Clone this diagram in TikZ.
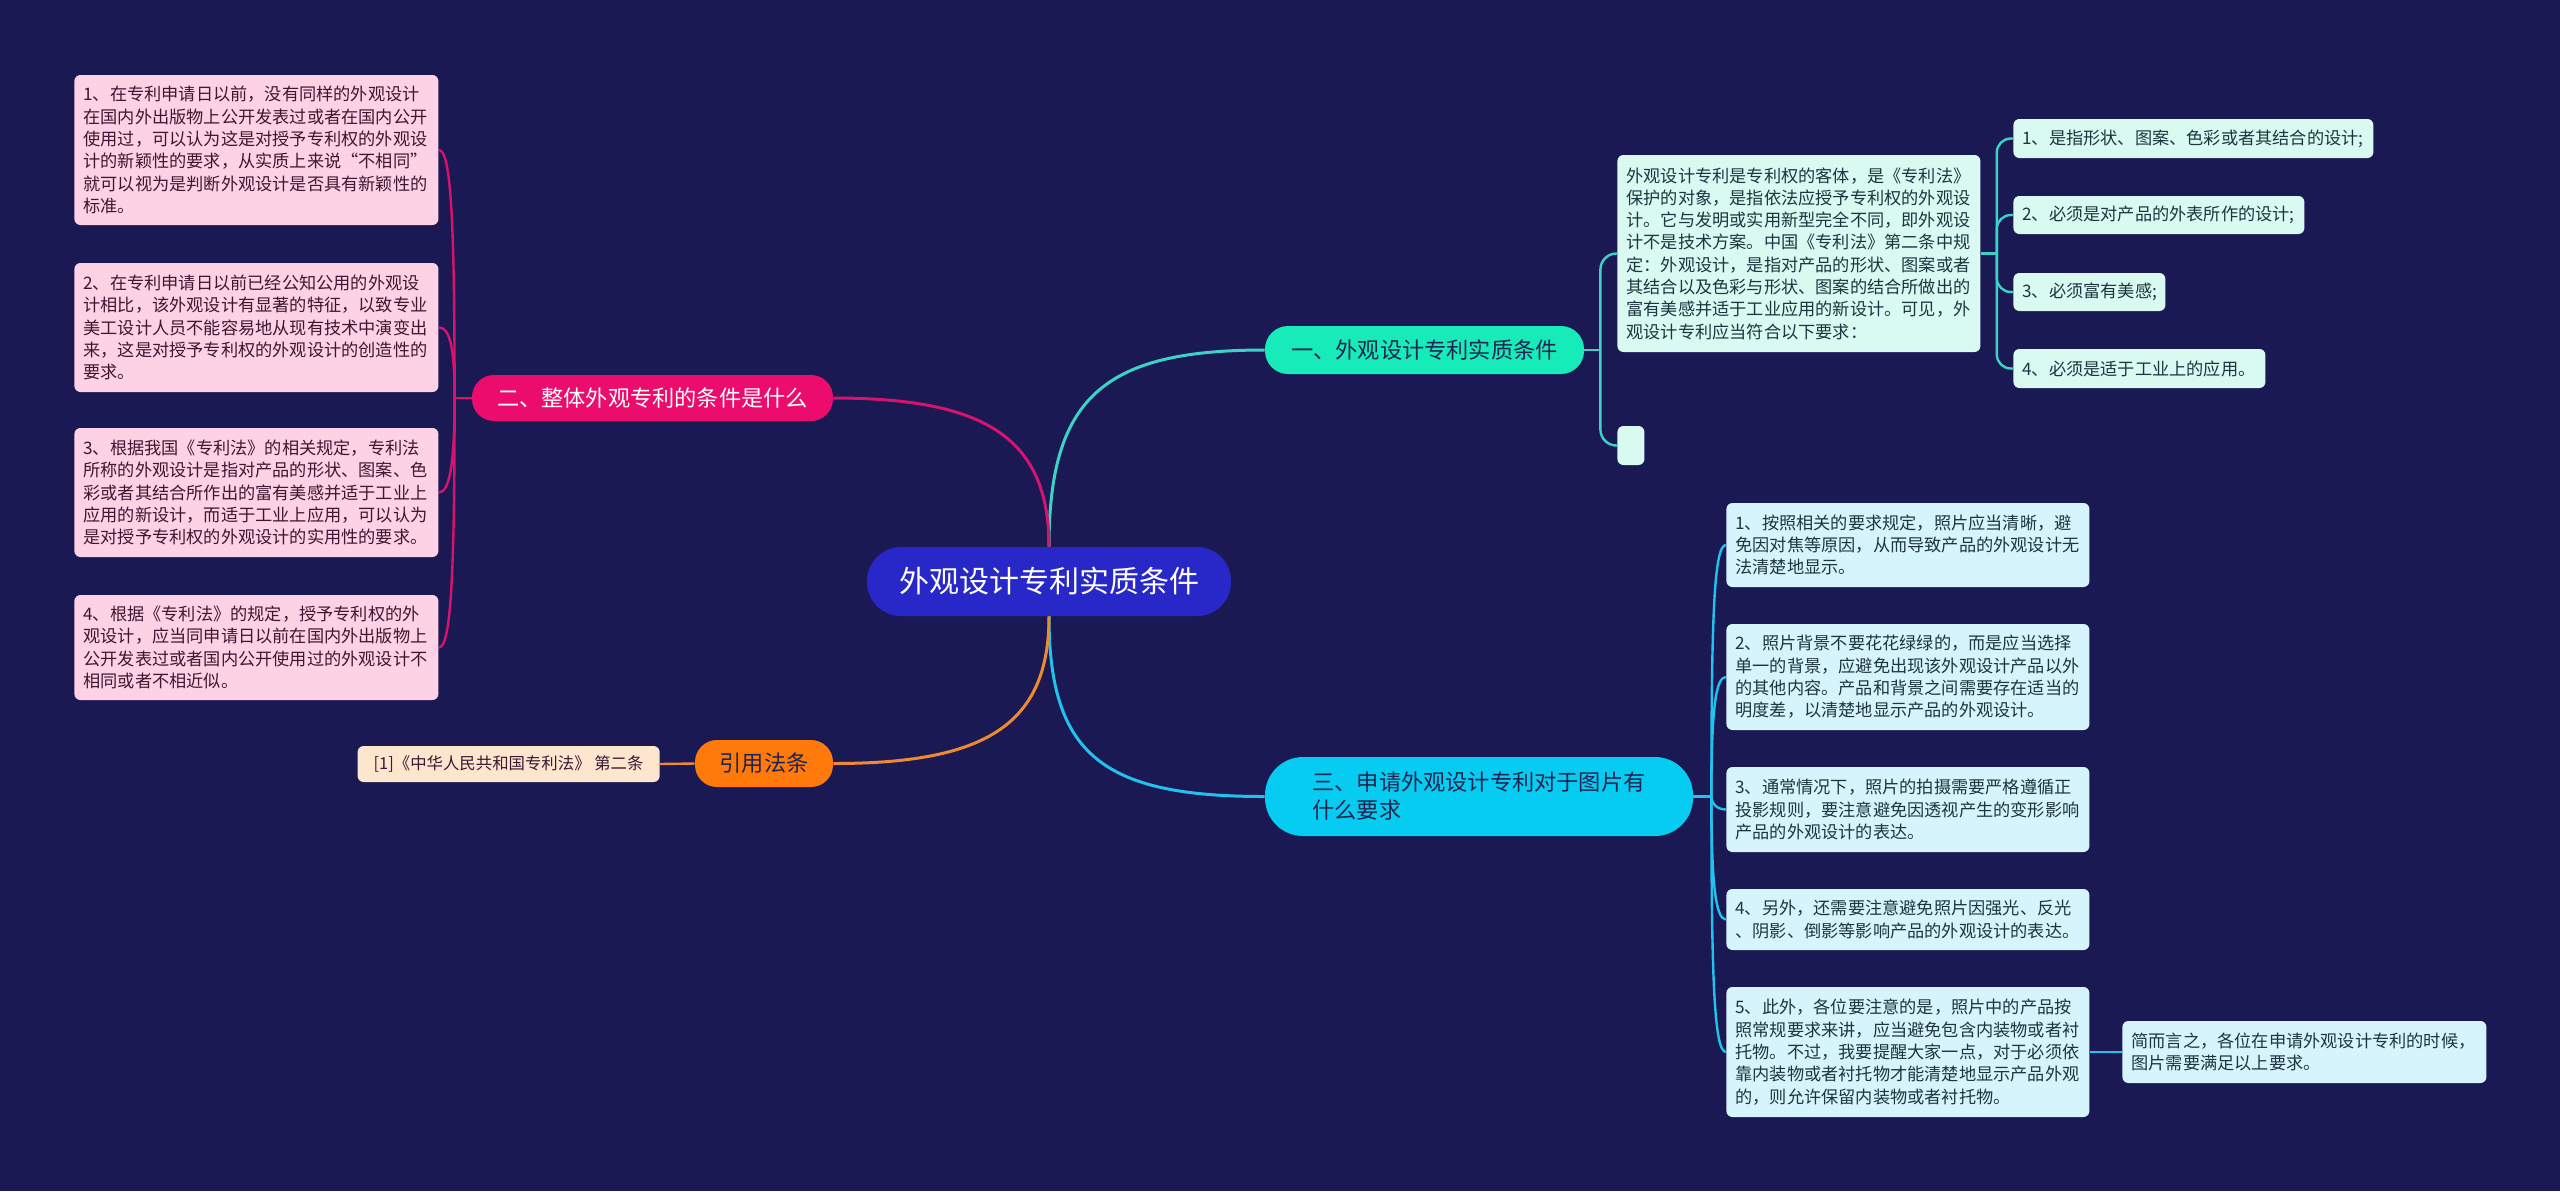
\documentclass[tikz,border=0pt]{standalone}
\usepackage{fontspec}
\setmainfont{Noto Sans CJK SC}
\usepackage{xcolor}
\usepackage{tikz}

\definecolor{bgnavy}{HTML}{1B1953}
\definecolor{rootblue}{HTML}{2828C8}
\definecolor{tealnode}{HTML}{16EBB9}
\definecolor{tealln}{HTML}{3CD3C6}
\definecolor{pinknode}{HTML}{EB0C6D}
\definecolor{pinkln}{HTML}{D4146E}
\definecolor{orangenode}{HTML}{FF7A0A}
\definecolor{orangeln}{HTML}{EE8A30}
\definecolor{cyannode}{HTML}{06CCF2}
\definecolor{cyanln}{HTML}{22C2EE}
\definecolor{pinkbg}{HTML}{FDD2E4}
\definecolor{mintbg}{HTML}{D8FAF0}
\definecolor{cyanbg}{HTML}{D6F4FC}
\definecolor{peachbg}{HTML}{FDE6CE}
\definecolor{pinktxt}{HTML}{3D1733}
\definecolor{subtxt}{HTML}{1F3442}
\definecolor{navytxt}{HTML}{1D2450}

\begin{document}
\begin{tikzpicture}[x=0.5pt, y=-0.5pt,
    main/.style={inner sep=0pt, align=left, font=\fontsize{11.1}{14}\selectfont},
    sub/.style={anchor=west, inner xsep=4.5pt, inner ysep=0pt, rounded corners=3pt,
      align=left, font=\fontsize{8.6}{11.15}\selectfont},
    pinkbox/.style={sub, fill=pinkbg, text=pinktxt},
    mintbox/.style={sub, fill=mintbg, text=subtxt},
    cyanbox/.style={sub, fill=cyanbg, text=subtxt},
    link/.style={line width=1.5pt},
    twig/.style={line width=1.2pt}]
  % Canvas
  \fill[bgnavy] (0,0) rectangle (2560,1191);
  \useasboundingbox (0,0) rectangle (2560,1191);

  % Root and main topics
  \node[main, fill=rootblue, text=white, font=\fontsize{15}{18}\selectfont,
    minimum width=182pt, minimum height=34.5pt, rounded corners=17pt] (root) at (1049,581.5) {外观设计专利实质条件};
  \node[main, fill=tealnode, text=navytxt, minimum width=159.5pt, minimum height=24pt,
    rounded corners=11.5pt] (b1) at (1424.5,350) {一、外观设计专利实质条件};
  \node[main, fill=pinknode, text=white, minimum width=180.5pt, minimum height=23pt,
    rounded corners=11pt] (b2) at (652.5,398) {二、整体外观专利的条件是什么};
  \node[main, fill=cyannode, text=navytxt, minimum width=214pt, minimum height=39.5pt,
    rounded corners=19pt] (b3) at (1479,796.5) {三、申请外观设计专利对于图片有\\什么要求};
  \node[main, fill=orangenode, text=navytxt, minimum width=69pt, minimum height=23.5pt,
    rounded corners=11pt] (b4) at (764,763.5) {引用法条};

  % Left: conditions
  \node[pinkbox, text width=173pt, minimum height=75pt] (l1) at (74,150)
    {1、在专利申请日以前，没有同样的外观设计\\在国内外出版物上公开发表过或者在国内公开\\使用过，可以认为这是对授予专利权的外观设\\计的新颖性的要求，从实质上来说“不相同”\\就可以视为是判断外观设计是否具有新颖性的\\标准。};
  \node[pinkbox, text width=173pt, minimum height=64.5pt] (l2) at (74,327.5)
    {2、在专利申请日以前已经公知公用的外观设\\计相比，该外观设计有显著的特征，以致专业\\美工设计人员不能容易地从现有技术中演变出\\来，这是对授予专利权的外观设计的创造性的\\要求。};
  \node[pinkbox, text width=173pt, minimum height=64.5pt] (l3) at (74,492.5)
    {3、根据我国《专利法》的相关规定，专利法\\所称的外观设计是指对产品的形状、图案、色\\彩或者其结合所作出的富有美感并适于工业上\\应用的新设计，而适于工业上应用，可以认为\\是对授予专利权的外观设计的实用性的要求。};
  \node[pinkbox, text width=173pt, minimum height=52.5pt] (l4) at (74,647.5)
    {4、根据《专利法》的规定，授予专利权的外\\观设计，应当同申请日以前在国内外出版物上\\公开发表过或者国内公开使用过的外观设计不\\相同或者不相近似。};
  \node[sub, fill=peachbg, text=pinktxt, anchor=east, font=\fontsize{8.2}{10}\selectfont,
    minimum width=151pt, minimum height=18pt] (ref) at (660,764) {[1]《中华人民共和国专利法》 第二条};

  % Right top: definition
  \node[mintbox, text width=172.5pt, minimum height=98.5pt] (t0) at (1617,253.5)
    {外观设计专利是专利权的客体，是《专利法》\\保护的对象，是指依法应授予专利权的外观设\\计。它与发明或实用新型完全不同，即外观设\\计不是技术方案。中国《专利法》第二条中规\\定：外观设计，是指对产品的形状、图案或者\\其结合以及色彩与形状、图案的结合所做出的\\富有美感并适于工业应用的新设计。可见，外\\观设计专利应当符合以下要求：};
  \node[mintbox, minimum width=13.5pt, minimum height=19.5pt] (e0) at (1617,445.5) {};
  \node[mintbox, text width=171pt, minimum height=19.5pt] (i1) at (2013,138.5) {1、是指形状、图案、色彩或者其结合的设计;};
  \node[mintbox, text width=136.5pt, minimum height=19pt] (i2) at (2013,215) {2、必须是对产品的外表所作的设计;};
  \node[mintbox, text width=67pt, minimum height=19pt] (i3) at (2013,292) {3、必须富有美感;};
  \node[mintbox, text width=117pt, minimum height=19.5pt] (i4) at (2013,368.5) {4、必须是适于工业上的应用。};

  % Right bottom: picture rules
  \node[cyanbox, text width=172.5pt, minimum height=42pt] (c1) at (1726,545)
    {1、按照相关的要求规定，照片应当清晰，避\\免因对焦等原因，从而导致产品的外观设计无\\法清楚地显示。};
  \node[cyanbox, text width=172.5pt, minimum height=53pt] (c2) at (1726,677)
    {2、照片背景不要花花绿绿的，而是应当选择\\单一的背景，应避免出现该外观设计产品以外\\的其他内容。产品和背景之间需要存在适当的\\明度差，以清楚地显示产品的外观设计。};
  \node[cyanbox, text width=172.5pt, minimum height=42.5pt] (c3) at (1726,809.5)
    {3、通常情况下，照片的拍摄需要严格遵循正\\投影规则，要注意避免因透视产生的变形影响\\产品的外观设计的表达。};
  \node[cyanbox, text width=172.5pt, minimum height=30.5pt] (c4) at (1726,919.5)
    {4、另外，还需要注意避免照片因强光、反光\\、阴影、倒影等影响产品的外观设计的表达。};
  \node[cyanbox, text width=172.5pt, minimum height=65pt] (c5) at (1726,1052)
    {5、此外，各位要注意的是，照片中的产品按\\照常规要求来讲，应当避免包含内装物或者衬\\托物。不过，我要提醒大家一点，对于必须依\\靠内装物或者衬托物才能清楚地显示产品外观\\的，则允许保留内装物或者衬托物。};
  \node[cyanbox, text width=173pt, minimum height=31pt] (f1) at (2122,1052)
    {简而言之，各位在申请外观设计专利的时候，\\图片需要满足以上要求。};

  % Branches from root
  \draw[link, tealln] (root.north) .. controls +(0,-150) and +(-160,0) .. (b1.west);
  \draw[link, pinkln] (root.north) .. controls +(0,-110) and +(150,0) .. (b2.east);
  \draw[link, cyanln] (root.south) .. controls +(0,140) and +(-160,0) .. (b3.west);
  \draw[link, orangeln] (root.south) .. controls +(0,110) and +(150,0) .. (b4.east);

  % Pink twigs
  \draw[twig, pinkln] (b2.west) -- ++(-17,0) coordinate (pk);
  \draw[twig, pinkln] (pk) .. controls +(0,-180) and +(12,0) .. (l1.east);
  \draw[twig, pinkln] (pk) .. controls +(0,-55) and +(10,0) .. (l2.east);
  \draw[twig, pinkln] (pk) .. controls +(0,70) and +(10,0) .. (l3.east);
  \draw[twig, pinkln] (pk) .. controls +(0,180) and +(12,0) .. (l4.east);

  % Orange twig
  \draw[twig, orangeln] (b4.west) -- (ref.east);

  % Teal twigs
  \draw[twig, tealln] (b1.east) -- ++(16,0) coordinate (tk);
  \draw[twig, tealln, rounded corners=8pt] (tk) |- (t0.west);
  \draw[twig, tealln, rounded corners=8pt] (tk) |- (e0.west);
  \draw[twig, tealln] (t0.east) -- ++(16,0) coordinate (tq);
  \draw[twig, tealln, rounded corners=7pt] (tq) |- (i1.west);
  \draw[twig, tealln, rounded corners=7pt] (tq) |- (i2.west);
  \draw[twig, tealln, rounded corners=7pt] (tq) |- (i3.west);
  \draw[twig, tealln, rounded corners=7pt] (tq) |- (i4.west);

  % Cyan twigs
  \draw[twig, cyanln] (b3.east) -- ++(18,0) coordinate (ck);
  \draw[twig, cyanln] (ck) .. controls +(0,-180) and +(-12,0) .. (c1.west);
  \draw[twig, cyanln] (ck) .. controls +(0,-90) and +(-10,0) .. (c2.west);
  \draw[twig, cyanln] (ck) .. controls +(0,8) and +(-8,0) .. (c3.west);
  \draw[twig, cyanln] (ck) .. controls +(0,90) and +(-10,0) .. (c4.west);
  \draw[twig, cyanln] (ck) .. controls +(0,180) and +(-12,0) .. (c5.west);
  \draw[twig, cyanln] (c5.east) -- (f1.west);
\end{tikzpicture}
\end{document}
